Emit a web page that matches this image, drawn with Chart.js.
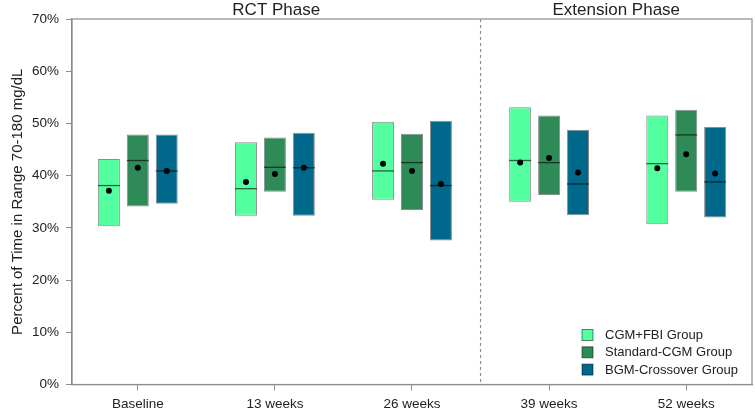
<!DOCTYPE html>
<html>
<head>
<meta charset="utf-8">
<script src="https://cdn.jsdelivr.net/npm/chart.js@4/dist/chart.umd.min.js"></script>
<style>
  html, body { margin: 0; padding: 0; background: #fff; }
  #wrap { width: 755px; height: 413px; }
</style>
</head>
<body>
<div id="wrap"><canvas id="tirChart" width="755" height="413"></canvas></div>
<script>
// Visit labels (x positions 1..5)
const visits = ['Baseline', '13 weeks', '26 weeks', '39 weeks', '52 weeks'];
const groups = ['CGM+FBI Group', 'Standard-CGM Group', 'BGM-Crossover Group'];

// Percent time in range, per group: lower quartile, upper quartile, median, mean
const fbiLow    = [30.3, 32.3, 35.4, 35.0, 30.7];
const fbiHigh   = [43.2, 46.4, 50.3, 53.1, 51.5];
const fbiMedian = [38.1, 37.5, 40.9, 42.9, 42.3];
const fbiMean   = [37.1, 38.8, 42.3, 42.5, 41.4];

const stdLow    = [34.1, 36.9, 33.4, 36.3, 36.9];
const stdHigh   = [47.9, 47.3, 48.0, 51.5, 52.6];
const stdMedian = [42.9, 41.6, 42.5, 42.5, 47.8];
const stdMean   = [41.5, 40.3, 40.9, 43.4, 44.1];

const bgmLow    = [34.6, 32.3, 27.6, 32.4, 32.0];
const bgmHigh   = [47.9, 48.2, 50.5, 48.8, 49.3];
const bgmMedian = [40.9, 41.5, 38.1, 38.4, 38.8];
const bgmMean   = [40.9, 41.5, 38.4, 40.6, 40.4];

const yTicks = [0, 10, 20, 30, 40, 50, 60, 70];
const phases = ['RCT Phase', 'Extension Phase'];
const phaseSplit = 3.5; // between 26 and 39 weeks

const colors = ['#54FF9F', '#2E8B57', '#00688B'];

function boxData(low, high) {
    return low.map((v, i) => ({ x: i + 1, y: [v, high[i]] }));
}

const medians = [fbiMedian, stdMedian, bgmMedian];
const means = [fbiMean, stdMean, bgmMean];

// medianes, moyennes, cadre, titres et légende
const overlay = {
    id: 'overlay',
    afterDatasetsDraw(chart) {
        const ctx = chart.ctx;
        const y = chart.scales.y;
        ctx.save();
        chart.data.datasets.forEach((ds, d) => {
            const meta = chart.getDatasetMeta(d);
            meta.data.forEach((bar, i) => {
                const p = bar.getProps(['x', 'width'], true);
                const ym = y.getPixelForValue(medians[d][i]);
                ctx.strokeStyle = 'rgba(0,0,0,0.6)';
                ctx.lineWidth = 1.3;
                ctx.beginPath();
                ctx.moveTo(p.x - p.width / 2, ym);
                ctx.lineTo(p.x + p.width / 2, ym);
                ctx.stroke();
                ctx.fillStyle = '#000';
                ctx.beginPath();
                ctx.arc(p.x, y.getPixelForValue(means[d][i]), 3, 0, Math.PI * 2);
                ctx.fill();
            });
        });
        ctx.restore();
    },
    afterDraw(chart) {
        const ctx = chart.ctx;
        const a = chart.chartArea;
        const x = chart.scales.x;
        const xs = x.getPixelForValue(phaseSplit);
        ctx.save();
        // cadre
        ctx.strokeStyle = '#8c8c8c';
        ctx.lineWidth = 1.2;
        ctx.strokeRect(a.left, a.top, a.right - a.left, a.bottom - a.top);
        // séparation des phases
        ctx.setLineDash([3, 3]);
        ctx.beginPath();
        ctx.moveTo(xs, a.top);
        ctx.lineTo(xs, a.bottom);
        ctx.stroke();
        ctx.setLineDash([]);
        // titres des phases
        ctx.fillStyle = '#222';
        ctx.font = '17px "Liberation Sans", Arial, sans-serif';
        ctx.textAlign = 'center';
        ctx.textBaseline = 'middle';
        ctx.fillText(phases[0], (a.left + xs) / 2, 10);
        ctx.fillText(phases[1], (xs + a.right) / 2, 10);
        // légende
        ctx.font = '13px "Liberation Sans", Arial, sans-serif';
        ctx.textAlign = 'left';
        groups.forEach((g, i) => {
            const cy = a.bottom - 50 + i * 17.3;
            const sx = a.right - 170;
            ctx.fillStyle = colors[i];
            ctx.fillRect(sx, cy - 5, 11, 11);
            ctx.strokeStyle = 'rgba(0,0,0,0.5)';
            ctx.lineWidth = 1;
            ctx.strokeRect(sx, cy - 5, 11, 11);
            ctx.fillStyle = '#222';
            ctx.fillText(g, a.right - 147, cy + 1);
        });
        ctx.restore();
    }
};

const ctxTir = document.getElementById('tirChart').getContext('2d');
const tirChart = new Chart(ctxTir, {
    type: 'bar',
    data: {
        datasets: [
            { label: groups[0], data: boxData(fbiLow, fbiHigh), backgroundColor: colors[0] },
            { label: groups[1], data: boxData(stdLow, stdHigh), backgroundColor: colors[1] },
            { label: groups[2], data: boxData(bgmLow, bgmHigh), backgroundColor: colors[2] }
        ].map(ds => Object.assign(ds, {
            borderColor: 'rgba(0,0,0,0.45)',
            borderWidth: 1,
            borderSkipped: false,
            categoryPercentage: 0.633,
            barPercentage: 0.76
        }))
    },
    options: {
        responsive: true,
        maintainAspectRatio: false,
        animation: false,
        layout: { padding: { top: 19, right: 3, left: 0, bottom: 0 } },
        plugins: {
            legend: { display: false },
            tooltip: { enabled: false }
        },
        scales: {
            x: {
                type: 'linear',
                offset: false,
                min: 0.52,
                max: 5.48,
                afterBuildTicks: s => { s.ticks = visits.map((v, i) => ({ value: i + 1 })); },
                afterFit: s => { s.height = 28.5; },
                grid: { offset: false, drawOnChartArea: false, drawTicks: true, tickLength: 6, color: '#8c8c8c' },
                border: { display: true, color: '#8c8c8c', width: 1.2 },
                ticks: {
                    padding: 6,
                    color: '#222',
                    font: { family: '"Liberation Sans", Arial, sans-serif', size: 13.5 },
                    callback: v => visits[v - 1]
                }
            },
            y: {
                min: 0,
                max: 70,
                afterBuildTicks: s => { s.ticks = yTicks.map(v => ({ value: v })); },
                afterFit: s => { s.width = 72; },
                grid: { drawOnChartArea: false, drawTicks: true, tickLength: 6, color: '#8c8c8c' },
                border: { display: true, color: '#8c8c8c', width: 1.2 },
                ticks: {
                    padding: 7,
                    color: '#222',
                    font: { family: '"Liberation Sans", Arial, sans-serif', size: 13.5 },
                    callback: v => v + '%'
                },
                title: {
                    display: true,
                    text: 'Percent of Time in Range 70-180 mg/dL',
                    color: '#222',
                    padding: { top: 9, bottom: 0 },
                    font: { family: '"Liberation Sans", Arial, sans-serif', size: 15 }
                }
            }
        }
    },
    plugins: [overlay]
});
</script>
</body>
</html>
